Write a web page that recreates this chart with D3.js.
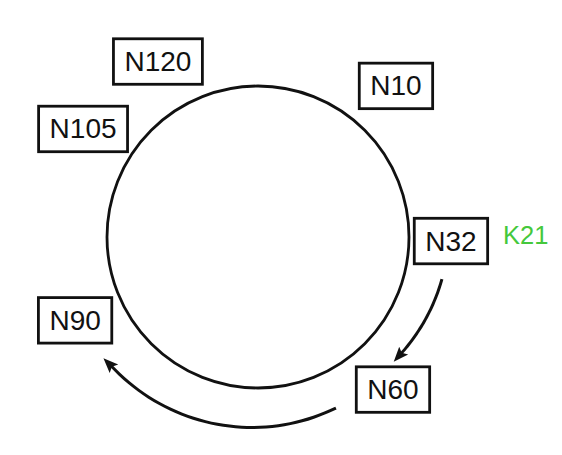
<!DOCTYPE html>
<html>
<head>
<meta charset="utf-8">
<script src="https://cdn.jsdelivr.net/npm/d3@7"></script>
<style>
html,body{margin:0;padding:0;background:#fff;}
svg{display:block;}
</style>
</head>
<body>
<svg id="chart" width="562" height="455"></svg>
<script>
// ---- data ----
const nodeIds = [10, 32, 60, 90, 105, 120];
const nodeLabels = ["N10", "N32", "N60", "N90", "N105", "N120"];
const keyLabel = "K21";
const keyNode = 32;
const hops = [[32, 60], [60, 90]];

// ---- layout ----
const W = 562, H = 455;
const cx = 258, cy = 237, ringR = 151;
const svg = d3.select("#chart");
const font = "'Liberation Sans', Arial, Helvetica, sans-serif";

// node placement around the ring (clockwise from 12 o'clock, degrees)
const angleScale = d3.scaleLinear()
  .domain(nodeIds)
  .range([42.4, 91.2, 138.5, 245.5, 301.7, 330.3]);
const radiusScale = d3.scaleLinear()
  .domain(nodeIds)
  .range([204.6, 193, 203.7, 201, 205.6, 202]);

const toRad = d => d * Math.PI / 180;
const pos = id => {
  const a = toRad(angleScale(id)), r = radiusScale(id);
  return [cx + r * Math.sin(a), cy - r * Math.cos(a)];
};

const g = svg.append("g");

// ring
g.append("circle")
  .attr("cx", cx).attr("cy", cy).attr("r", ringR)
  .attr("fill", "none").attr("stroke", "#111").attr("stroke-width", 2.8);

// arrow marker
svg.append("defs").append("marker")
  .attr("id", "head")
  .attr("markerUnits", "userSpaceOnUse")
  .attr("viewBox", "0 -7 16 14")
  .attr("markerWidth", 16).attr("markerHeight", 14)
  .attr("refX", 5).attr("refY", 0)
  .attr("orient", "auto")
  .append("path").attr("d", "M0,-6L15,0L0,6L3,0Z").attr("fill", "#111");

// hop arcs (clockwise-from-top degrees, radii)
const hopGeom = [
  {a0: 102.9, a1: 129.5, r0: 188.7, r1: 184.5},
  {a0: 155.5, a1: 229.0, r0: 188, r1: 195.5}
];
const radialLine = d3.lineRadial()
  .angle(d => toRad(d[0])).radius(d => d[1])
  .curve(d3.curveBasis);
hops.forEach((h, i) => {
  const gm = hopGeom[i];
  const pts = d3.range(0, 1.0001, 0.05).map(t => [gm.a0 + (gm.a1 - gm.a0) * t, gm.r0 + (gm.r1 - gm.r0) * t]);
  g.append("path")
    .attr("transform", `translate(${cx},${cy})`)
    .attr("d", radialLine(pts))
    .attr("fill", "none").attr("stroke", "#111").attr("stroke-width", 3)
    .attr("marker-end", "url(#head)");
});

// nodes
const fs = 28, padX = 11, boxH = 45.5;
nodeIds.forEach((id, i) => {
  const [x, y] = pos(id);
  const ng = g.append("g");
  const t = ng.append("text")
    .attr("x", x).attr("y", y + fs * 0.34)
    .attr("text-anchor", "middle")
    .attr("font-family", font).attr("font-size", fs)
    .attr("fill", "#111")
    .text(nodeLabels[i]);
  const tw = t.node().getComputedTextLength();
  ng.insert("rect", "text")
    .attr("x", x - tw / 2 - padX).attr("y", y - boxH / 2)
    .attr("width", tw + 2 * padX).attr("height", boxH)
    .attr("fill", "#fff").attr("stroke", "#111").attr("stroke-width", 2.8);
});

// key label beside its node
const [kx, ky] = pos(keyNode);
g.append("text")
  .attr("x", kx + 52).attr("y", ky + 3)
  .attr("font-family", font).attr("font-size", 25.5)
  .attr("fill", "#45c83c")
  .text(keyLabel);
</script>
</body>
</html>
